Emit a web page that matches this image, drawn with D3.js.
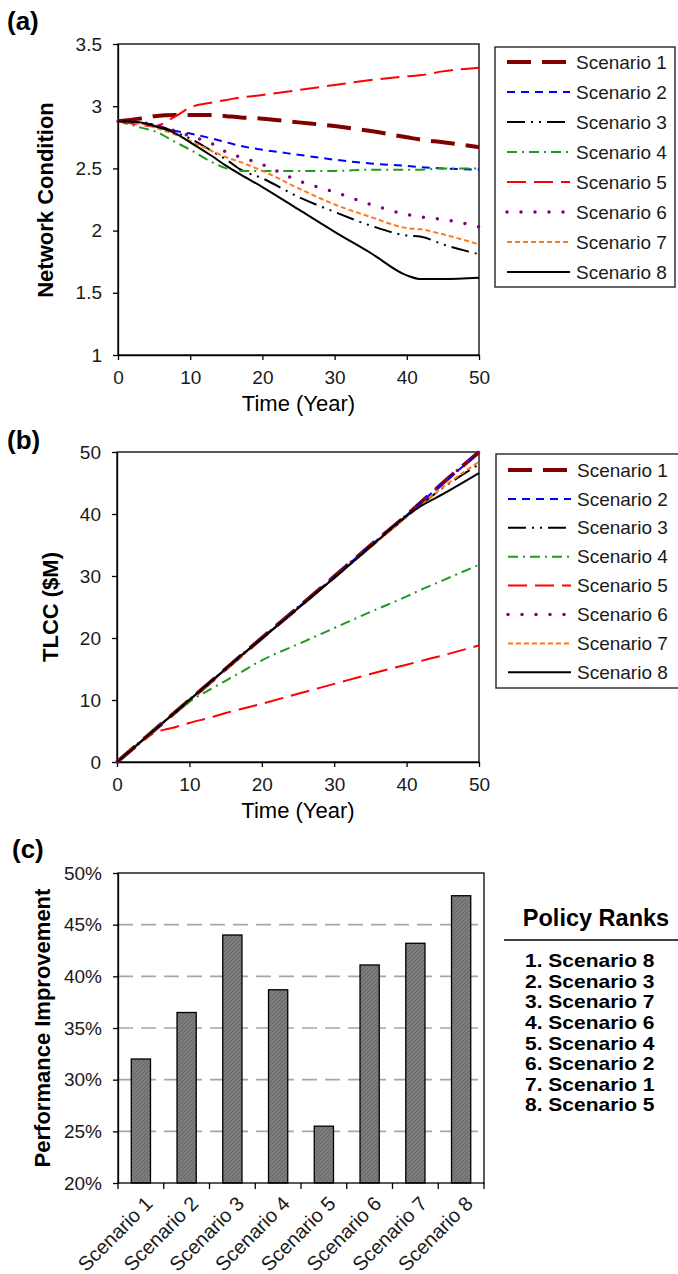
<!DOCTYPE html>
<html>
<head>
<meta charset="utf-8">
<script src="https://cdn.jsdelivr.net/npm/d3@7"></script>
<style>
  body { margin: 0; background: #fff; }
  svg { display: block; }
</style>
</head>
<body>
<script>
// ---- data ----
var years = [0, 3, 5, 8, 10, 13, 15, 17, 20, 25, 30, 35, 40, 42, 45, 50];
var scenarios = ["Scenario 1", "Scenario 2", "Scenario 3", "Scenario 4",
                 "Scenario 5", "Scenario 6", "Scenario 7", "Scenario 8"];

// (a) network condition per scenario
var condS1 = [2.88, 2.90, 2.92, 2.93, 2.93, 2.93, 2.92, 2.91, 2.90, 2.87, 2.84, 2.80, 2.75, 2.73, 2.71, 2.67];
var condS2 = [2.88, 2.87, 2.85, 2.80, 2.78, 2.74, 2.71, 2.68, 2.65, 2.61, 2.57, 2.54, 2.52, 2.51, 2.50, 2.49];
var condS3 = [2.88, 2.87, 2.85, 2.79, 2.74, 2.64, 2.57, 2.49, 2.42, 2.27, 2.15, 2.04, 1.96, 1.95, 1.89, 1.81];
var condS4 = [2.88, 2.83, 2.80, 2.71, 2.65, 2.55, 2.50, 2.48, 2.48, 2.48, 2.48, 2.49, 2.49, 2.49, 2.50, 2.50];
var condS5 = [2.88, 2.85, 2.84, 2.92, 2.99, 3.03, 3.05, 3.07, 3.09, 3.13, 3.17, 3.21, 3.24, 3.25, 3.28, 3.31];
var condS6 = [2.88, 2.87, 2.85, 2.80, 2.76, 2.70, 2.63, 2.59, 2.53, 2.40, 2.31, 2.21, 2.13, 2.11, 2.09, 2.03];
var condS7 = [2.88, 2.86, 2.83, 2.77, 2.72, 2.64, 2.59, 2.55, 2.48, 2.34, 2.21, 2.11, 2.02, 2.01, 1.97, 1.89];
var condS8 = [2.88, 2.87, 2.84, 2.78, 2.71, 2.60, 2.52, 2.45, 2.35, 2.17, 1.99, 1.82, 1.64, 1.61, 1.61, 1.62];

// (b) total life-cycle cost ($M) per scenario
var tlccS1 = [0, 3.0, 5.0, 8.0, 10.0, 13.0, 15.0, 17.0, 20.0, 24.9, 29.9, 34.9, 39.8, 41.9, 45.0, 50.0];
var tlccS2 = [0, 3.0, 5.0, 8.0, 10.0, 13.0, 15.0, 17.0, 20.0, 24.9, 29.9, 34.9, 39.8, 41.9, 44.9, 49.9];
var tlccS3 = [0, 3.0, 5.0, 8.0, 10.0, 13.0, 15.0, 17.0, 19.9, 24.8, 29.7, 34.7, 39.6, 41.5, 44.2, 48.0];
var tlccS4 = [0, 3.0, 5.0, 7.9, 9.7, 11.8, 13.1, 14.4, 16.4, 19.0, 21.6, 24.2, 26.7, 27.8, 29.3, 31.8];
var tlccS5 = [0, 3.0, 4.6, 5.6, 6.3, 7.2, 7.9, 8.5, 9.4, 11.0, 12.6, 14.2, 15.7, 16.3, 17.2, 18.8];
var tlccS6 = [0, 3.0, 5.0, 8.0, 10.0, 13.0, 15.0, 17.0, 20.0, 24.9, 29.9, 34.9, 39.8, 41.9, 45.0, 50.0];
var tlccS7 = [0, 3.0, 5.0, 8.0, 10.0, 12.9, 14.9, 16.9, 19.9, 24.8, 29.7, 34.6, 39.5, 41.4, 44.3, 48.4];
var tlccS8 = [0, 3.0, 5.0, 8.0, 10.0, 13.0, 15.0, 17.0, 19.9, 24.8, 29.7, 34.7, 39.7, 41.3, 43.2, 46.6];

// (c) performance improvement and ranking
var improvement = [0.320, 0.365, 0.440, 0.387, 0.255, 0.411, 0.432, 0.478];
var policyRanks = ["1. Scenario 8", "2. Scenario 3", "3. Scenario 7", "4. Scenario 6",
                   "5. Scenario 4", "6. Scenario 2", "7. Scenario 1", "8. Scenario 5"];

// tick labels
var yearTicks = [0, 10, 20, 30, 40, 50];
var condTicks = [1, 1.5, 2, 2.5, 3, 3.5];
var tlccTicks = [0, 10, 20, 30, 40, 50];
var pctTicks = [0.20, 0.25, 0.30, 0.35, 0.40, 0.45, 0.50];

// ---- styles ----
var FONT = "'Liberation Sans', Arial, sans-serif";
var lineStyles = [
	{ color: "#800000", width: 4, dash: "24,11", cap: "butt" },
	{ color: "#0000ff", width: 2, dash: "8,6", cap: "butt" },
	{ color: "#000000", width: 2, dash: "18,6,2,6,2,6", cap: "butt" },
	{ color: "#1f9a1f", width: 2, dash: "10,5,2,5", cap: "butt" },
	{ color: "#ff0000", width: 2, dash: "19,8", cap: "butt" },
	{ color: "#800080", width: 3.5, dash: "0,14", cap: "round" },
	{ color: "#ff7a1a", width: 2, dash: "5,3", cap: "butt" },
	{ color: "#000000", width: 2, dash: null, cap: "butt" }
];

var svg = d3.select("body").append("svg")
	.attr("width", 678)
	.attr("height", 1274);

svg.append("rect").attr("width", 678).attr("height", 1274).attr("fill", "#fff");

var pattern = svg.append("defs").append("pattern")
	.attr("id", "hatch")
	.attr("patternUnits", "userSpaceOnUse")
	.attr("width", 4)
	.attr("height", 4);
pattern.append("rect").attr("width", 4).attr("height", 4).attr("fill", "#7c7c7c");
pattern.append("path")
	.attr("d", "M-1,1 l2,-2 M0,4 l4,-4 M3,5 l2,-2")
	.attr("stroke", "#666")
	.attr("stroke-width", 1);

function styleAxis(sel) {
	sel.attr("font-size", 19).attr("font-family", FONT);
	sel.select(".domain").attr("stroke", "#000").attr("stroke-width", 1.3);
	sel.selectAll(".tick line").attr("stroke", "#000").attr("stroke-width", 1.3);
	sel.selectAll(".tick text").attr("fill", "#1a1a1a");
}

function panelLabel(x, y, t) {
	svg.append("text")
		.attr("x", x)
		.attr("y", y)
		.style("font-family", FONT)
		.style("font-weight", "bold")
		.style("font-size", "26px")
		.text(t);
}

function yTitle(cx, cy, t) {
	svg.append("text")
		.attr("transform", "translate(" + cx + "," + cy + ") rotate(-90)")
		.attr("dy", "0.35em")
		.style("font-family", FONT)
		.style("font-weight", "bold")
		.style("font-size", "22px")
		.style("text-anchor", "middle")
		.text(t);
}

function drawLinePanel(o) {
	var x = d3.scaleLinear().domain([0, 50]).range([o.left, o.right]);
	var y = d3.scaleLinear().domain(o.yDomain).range([o.bottom, o.top]);
	var g = svg.append("g");

	g.append("rect")
		.attr("x", o.left)
		.attr("y", o.top)
		.attr("width", o.right - o.left)
		.attr("height", o.bottom - o.top)
		.attr("fill", "none")
		.attr("stroke", "#000")
		.attr("stroke-width", 1.3);

	g.append("g")
		.attr("transform", "translate(0," + o.bottom + ")")
		.call(d3.axisBottom(x).tickValues(yearTicks).tickSize(5).tickSizeOuter(0).tickPadding(11))
		.call(styleAxis);

	g.append("g")
		.attr("transform", "translate(" + o.left + ",0)")
		.call(d3.axisLeft(y).tickValues(o.yTicks).tickFormat(function(d) { return d; })
			.tickSize(5).tickSizeOuter(0).tickPadding(11))
		.call(styleAxis);

	var line = d3.line()
		.x(function(d, i) { return x(years[i]); })
		.y(function(d) { return y(d); })
		.curve(d3.curveMonotoneX);

	o.series.forEach(function(vals, i) {
		var s = lineStyles[i];
		g.append("path")
			.datum(vals)
			.attr("d", line)
			.attr("fill", "none")
			.attr("stroke", s.color)
			.attr("stroke-width", s.width)
			.attr("stroke-linecap", s.cap)
			.attr("stroke-dasharray", s.dash);
	});

	g.append("text")
		.attr("x", (o.left + o.right) / 2)
		.attr("y", o.bottom + 56)
		.style("font-family", FONT)
		.style("font-size", "22px")
		.style("text-anchor", "middle")
		.text("Time (Year)");

	// legend
	var lg = svg.append("g");
	lg.append("rect")
		.attr("x", o.legend.x)
		.attr("y", o.legend.y)
		.attr("width", o.legend.w)
		.attr("height", o.legend.h)
		.attr("fill", "#fff")
		.attr("stroke", "#333")
		.attr("stroke-width", 1.5);
	scenarios.forEach(function(name, i) {
		var s = lineStyles[i],
			ry = o.legend.y0 + o.legend.step * i;
		lg.append("line")
			.attr("x1", o.legend.x + 12)
			.attr("x2", o.legend.x + 75)
			.attr("y1", ry)
			.attr("y2", ry)
			.attr("stroke", s.color)
			.attr("stroke-width", s.width)
			.attr("stroke-linecap", s.cap)
			.attr("stroke-dasharray", s.dash);
		lg.append("text")
			.attr("x", o.legend.x + 81)
			.attr("y", ry)
			.attr("dy", "0.35em")
			.style("font-family", FONT)
			.style("font-size", "19px")
			.style("fill", "#1a1a1a")
			.text(name);
	});
}

// ---- panel (a) ----
panelLabel(7, 30, "(a)");
yTitle(45, 200, "Network Condition");
drawLinePanel({
	left: 118, right: 479, top: 44, bottom: 355,
	yDomain: [1, 3.5], yTicks: condTicks,
	series: [condS1, condS2, condS3, condS4, condS5, condS6, condS7, condS8],
	legend: { x: 495, y: 47, w: 180, h: 240, y0: 62, step: 30 }
});

// ---- panel (b) ----
panelLabel(7, 449, "(b)");
yTitle(50, 607, "TLCC ($M)");
drawLinePanel({
	left: 117, right: 479, top: 452, bottom: 762,
	yDomain: [0, 50], yTicks: tlccTicks,
	series: [tlccS1, tlccS2, tlccS3, tlccS4, tlccS5, tlccS6, tlccS7, tlccS8],
	legend: { x: 496, y: 454, w: 186, h: 234, y0: 470, step: 28.9 }
});

// ---- panel (c) ----
panelLabel(12, 858, "(c)");
yTitle(42, 1028, "Performance Improvement");

var cLeft = 118, cRight = 484, cTop = 873, cBottom = 1183;
var xb = d3.scaleBand().domain(scenarios).range([cLeft, cRight]).padding(0);
var yb = d3.scaleLinear().domain([0.2, 0.5]).range([cBottom, cTop]);
var gc = svg.append("g");

gc.selectAll(".grid")
	.data(pctTicks.slice(1, -1))
	.enter().append("line")
	.attr("x1", cLeft)
	.attr("x2", cRight)
	.attr("y1", function(d) { return yb(d); })
	.attr("y2", function(d) { return yb(d); })
	.attr("stroke", "#a6a6a6")
	.attr("stroke-width", 1.6)
	.attr("stroke-dasharray", "15,8");

var barW = xb.bandwidth() * 0.42;
gc.selectAll(".bar")
	.data(improvement)
	.enter().append("rect")
	.attr("x", function(d, i) { return xb(scenarios[i]) + (xb.bandwidth() - barW) / 2; })
	.attr("y", function(d) { return yb(d); })
	.attr("width", barW)
	.attr("height", function(d) { return cBottom - yb(d); })
	.attr("fill", "url(#hatch)")
	.attr("stroke", "#000")
	.attr("stroke-width", 1.3);

gc.append("rect")
	.attr("x", cLeft)
	.attr("y", cTop)
	.attr("width", cRight - cLeft)
	.attr("height", cBottom - cTop)
	.attr("fill", "none")
	.attr("stroke", "#000")
	.attr("stroke-width", 1.3);

gc.append("g")
	.attr("transform", "translate(" + cLeft + ",0)")
	.call(d3.axisLeft(yb).tickValues(pctTicks).tickFormat(d3.format(".0%"))
		.tickSize(5).tickSizeOuter(0).tickPadding(11))
	.call(styleAxis);

// category boundary ticks
var bounds = scenarios.map(function(s) { return xb(s); }).concat([xb(scenarios[7]) + xb.bandwidth()]);
gc.selectAll(".ctick")
	.data(bounds)
	.enter().append("line")
	.attr("x1", function(d) { return d; })
	.attr("x2", function(d) { return d; })
	.attr("y1", cBottom)
	.attr("y2", cBottom + 6)
	.attr("stroke", "#000")
	.attr("stroke-width", 1.3);

gc.selectAll(".clabel")
	.data(scenarios)
	.enter().append("text")
	.attr("transform", function(d) {
		return "translate(" + (xb(d) + xb.bandwidth() / 2 + 3) + "," + (cBottom + 12) + ") rotate(-45)";
	})
	.attr("dy", "0.7em")
	.style("font-family", FONT)
	.style("font-size", "20px")
	.style("fill", "#1a1a1a")
	.style("text-anchor", "end")
	.text(function(d) { return d; });

// policy ranks table
svg.append("text")
	.attr("x", 596)
	.attr("y", 926)
	.style("font-family", FONT)
	.style("font-weight", "bold")
	.style("font-size", "23.5px")
	.style("text-anchor", "middle")
	.text("Policy Ranks");
svg.append("line")
	.attr("x1", 504)
	.attr("x2", 678)
	.attr("y1", 940)
	.attr("y2", 940)
	.attr("stroke", "#000")
	.attr("stroke-width", 1.5);
// the ranks are set tight and wide in the reference: a smaller font stretched sideways
svg.selectAll(".rank")
	.data(policyRanks)
	.enter().append("text")
	.attr("transform", function(d, i) { return "translate(525," + (961 + 20.6 * i) + ") scale(1.2,1)"; })
	.attr("dy", "0.35em")
	.style("font-family", FONT)
	.style("font-weight", "bold")
	.style("font-size", "17.5px")
	.text(function(d) { return d; });
</script>
</body>
</html>
